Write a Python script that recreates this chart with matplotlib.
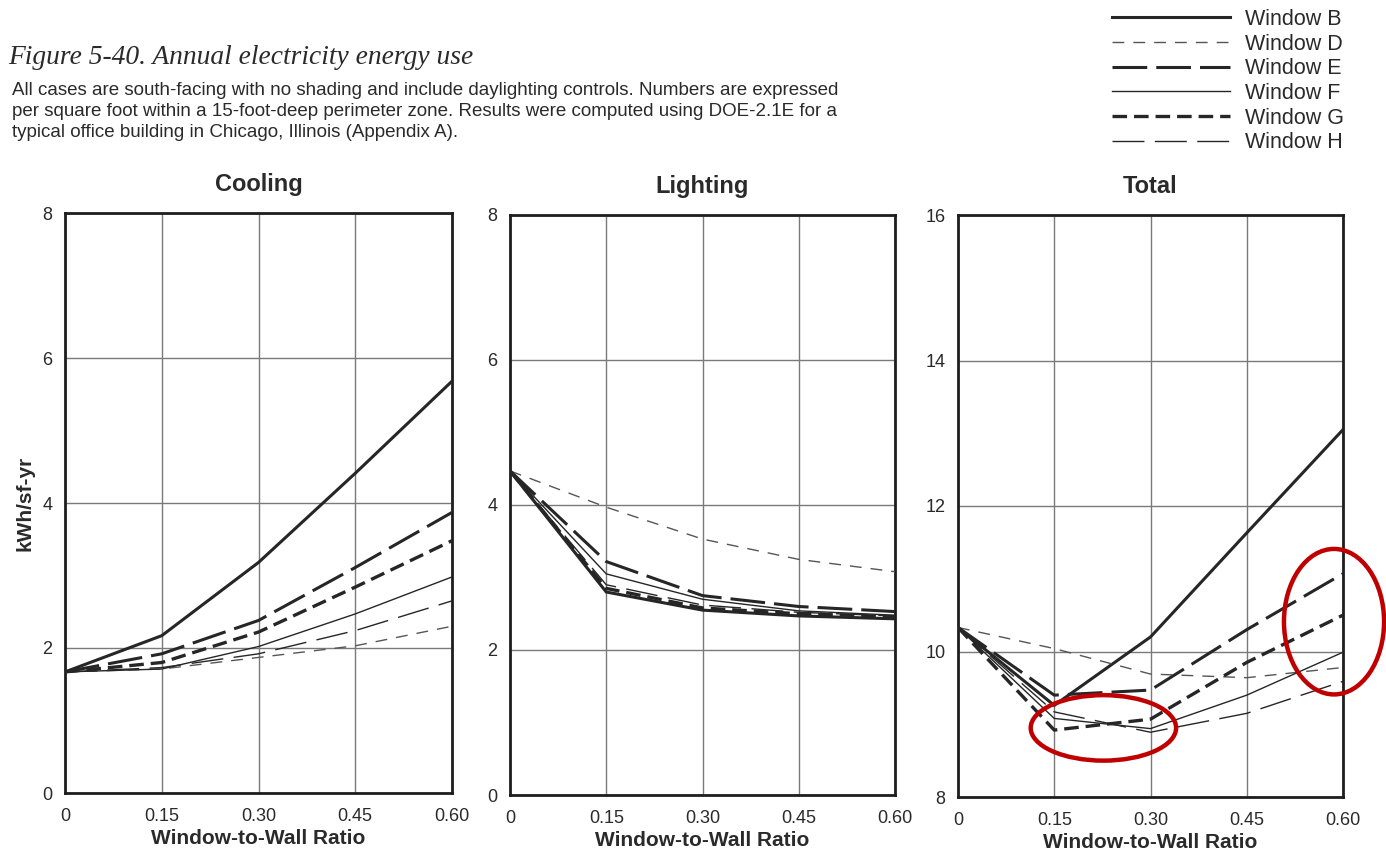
import matplotlib
matplotlib.use("Agg")
import matplotlib.pyplot as plt
from matplotlib.lines import Line2D
from matplotlib.patches import Ellipse

plt.rcParams["font.family"] = ["Liberation Sans", "DejaVu Sans"]
plt.rcParams["lines.scale_dashes"] = False

# Window-to-wall ratios
wwr = [0.0, 0.15, 0.30, 0.45, 0.60]
xtick_labels = ["0", "0.15", "0.30", "0.45", "0.60"]

windows = ["Window B", "Window D", "Window E", "Window F", "Window G", "Window H"]

# Annual cooling electricity (kWh/sf-yr)
cooling_b = [1.67, 2.17, 3.18, 4.41, 5.68]
cooling_d = [1.67, 1.71, 1.87, 2.03, 2.30]
cooling_e = [1.67, 1.92, 2.38, 3.11, 3.87]
cooling_f = [1.67, 1.71, 2.02, 2.47, 2.98]
cooling_g = [1.67, 1.80, 2.22, 2.84, 3.48]
cooling_h = [1.67, 1.73, 1.92, 2.24, 2.65]

# Annual lighting electricity (kWh/sf-yr)
lighting_b = [4.47, 2.80, 2.55, 2.47, 2.43]
lighting_d = [4.47, 3.97, 3.53, 3.25, 3.08]
lighting_e = [4.47, 3.22, 2.75, 2.60, 2.53]
lighting_f = [4.47, 3.05, 2.70, 2.54, 2.48]
lighting_g = [4.47, 2.85, 2.58, 2.50, 2.46]
lighting_h = [4.47, 2.90, 2.62, 2.52, 2.47]

# Annual total electricity (kWh/sf-yr)
total_b = [10.33, 9.26, 10.20, 11.63, 13.05]
total_d = [10.33, 10.04, 9.69, 9.64, 9.78]
total_e = [10.33, 9.40, 9.47, 10.30, 11.07]
total_f = [10.33, 9.08, 8.94, 9.40, 9.99]
total_g = [10.33, 8.92, 9.07, 9.85, 10.50]
total_h = [10.33, 9.17, 8.89, 9.15, 9.59]

line_color = "#262626"
text_color = "#2a2a2a"
styles = {
    "Window B": dict(lw=2.2, ls="-"),
    "Window D": dict(lw=1.0, ls=(0, (8.5, 6.5)), color="#555555"),
    "Window E": dict(lw=2.2, ls=(0, (25, 6.5))),
    "Window F": dict(lw=1.0, ls="-"),
    "Window G": dict(lw=2.4, ls=(0, (10.5, 5))),
    "Window H": dict(lw=1.0, ls=(0, (23, 7.5))),
}

panels = [
    ("Cooling", [cooling_b, cooling_d, cooling_e, cooling_f, cooling_g, cooling_h], (0, 8)),
    ("Lighting", [lighting_b, lighting_d, lighting_e, lighting_f, lighting_g, lighting_h], (0, 8)),
    ("Total", [total_b, total_d, total_e, total_f, total_g, total_h], (8, 16)),
]

W, H = 1386, 852
fig = plt.figure(figsize=(W / 100, H / 100), dpi=100)
fig.patch.set_facecolor("white")

axes_px = [(65, 213, 452, 793), (510, 215, 895, 795), (958, 215, 1343, 797)]

axes = []
for (title, series, ylim), (l, t, r, b) in zip(panels, axes_px):
    ax = fig.add_axes([l / W, 1 - b / H, (r - l) / W, (b - t) / H])
    for name, vals in zip(windows, series):
        st = dict(styles[name])
        color = st.pop("color", line_color)
        ax.plot(wwr, vals, color=color, dash_capstyle="butt",
                solid_joinstyle="miter", zorder=3, **st)
    ax.set_xlim(0, 0.60)
    ax.set_ylim(*ylim)
    ax.set_xticks(wwr)
    ax.set_xticklabels(xtick_labels)
    ax.set_yticks(range(ylim[0], ylim[1] + 1, 2))
    ax.tick_params(axis="x", length=0, labelsize=13, colors=text_color, pad=11)
    ax.tick_params(axis="y", length=0, labelsize=13, colors=text_color, pad=9)
    ax.grid(True, color="#7a7a7a", lw=1.0)
    ax.set_axisbelow(True)
    for sp in ax.spines.values():
        sp.set_linewidth(2.0)
        sp.set_color("#1e1e1e")
    ax.set_title(title, fontsize=17, fontweight="bold", color=text_color, pad=16)
    ax.set_xlabel("Window-to-Wall Ratio", fontsize=15, fontweight="bold",
                  color=text_color, labelpad=3)
    axes.append(ax)

axes[0].set_ylabel("kWh/sf-yr", fontsize=15, fontweight="bold", color=text_color, labelpad=6)

# Red highlight ellipses on the total panel
tot = axes[2]
tot.add_patch(Ellipse((0.2266, 8.95), 0.2266, 0.9, fill=False, ec="#c00000",
                      lw=3.2, zorder=5, clip_on=False))
tot.add_patch(Ellipse((0.586, 10.41), 0.156, 2.0, fill=False, ec="#c00000",
                      lw=3.2, zorder=5, clip_on=False))

# Heading and caption
fig.text(8 / W, 1 - 57 / H, "Figure 5-40. Annual electricity energy use",
         fontsize=19.8, fontstyle="italic", family=["Liberation Serif", "DejaVu Serif"],
         color=text_color, va="center", ha="left")
caption = ("All cases are south-facing with no shading and include daylighting controls. Numbers are expressed\n"
           "per square foot within a 15-foot-deep perimeter zone. Results were computed using DOE-2.1E for a\n"
           "typical office building in Chicago, Illinois (Appendix A).")
fig.text(12 / W, 1 - 82 / H, caption, fontsize=13.5, color=text_color, va="top", ha="left",
         linespacing=1.32)

# Legend
handles = []
for name in windows:
    st = dict(styles[name])
    color = st.pop("color", line_color)
    handles.append(Line2D([0], [0], color=color, dash_capstyle="butt", **st))
fig.legend(handles, windows, loc="upper left", bbox_to_anchor=(1099 / W, 1 + 4 / H),
           frameon=False, fontsize=15.5, handlelength=5.5, handletextpad=0.7,
           labelspacing=0.17, labelcolor=text_color, borderaxespad=0.2)

fig.savefig("out.png", dpi=100, facecolor="white")
